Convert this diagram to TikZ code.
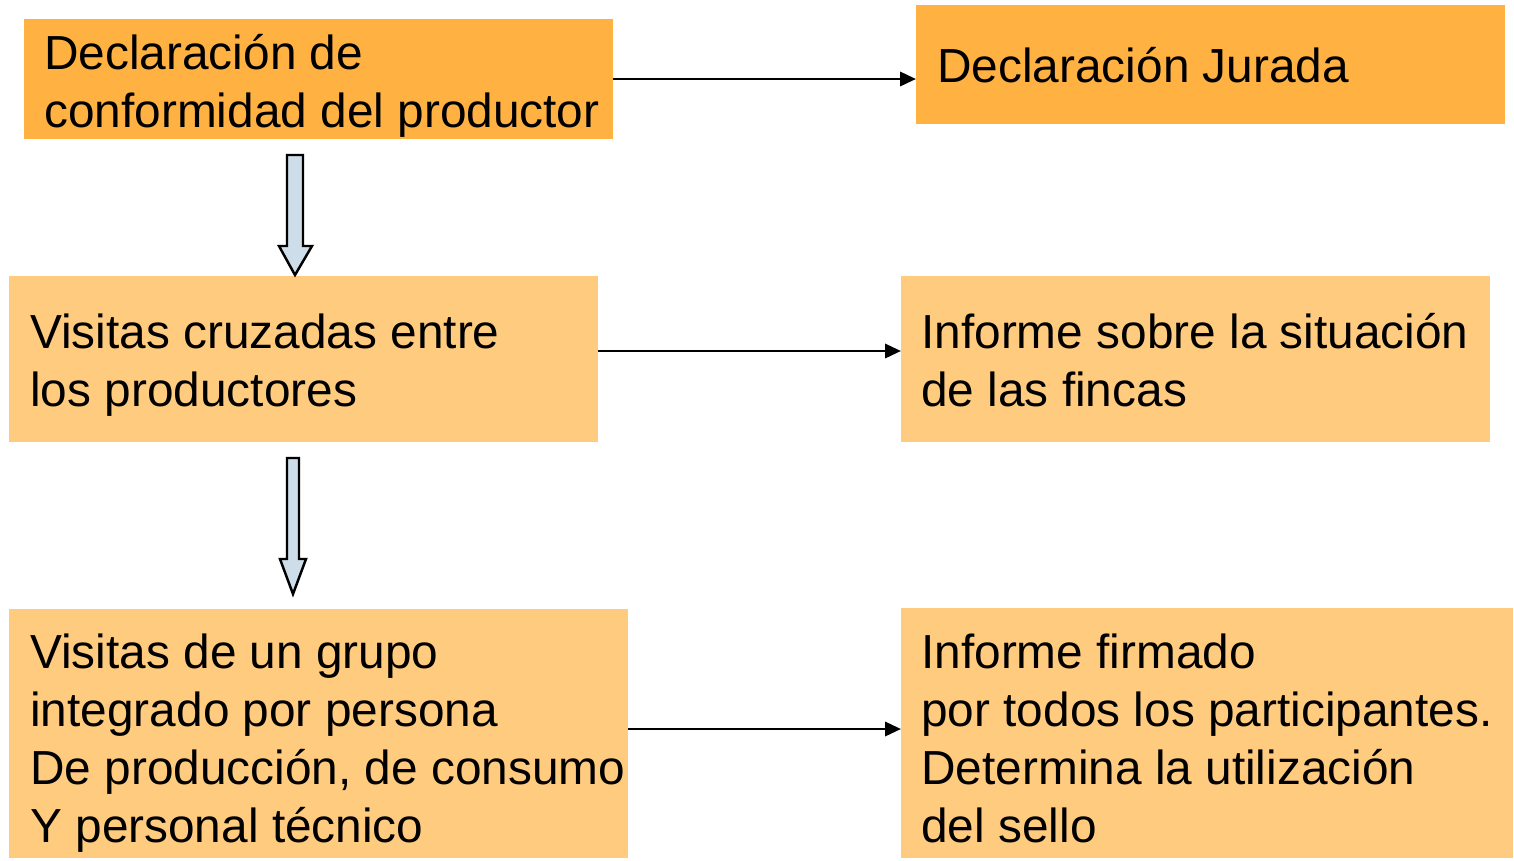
\documentclass[tikz,border=0pt]{standalone}
\usepackage{fontspec}
\setmainfont{Liberation Sans}
\usetikzlibrary{arrows.meta}
\definecolor{topbox}{HTML}{FFB142}
\definecolor{lowbox}{HTML}{FFCB7F}
\definecolor{blockfill}{HTML}{CDDDE9}
\begin{document}
\begin{tikzpicture}[x=0.02cm,y=-0.02cm,
  boxshape/.style={draw=none,inner sep=0pt,outer sep=0pt},
  lbl/.style={anchor=base west,inner sep=0pt,font=\fontsize{27.2}{32.9}\selectfont,align=left},
  conn/.style={line width=1.6pt,-{Triangle[length=9pt,width=8pt]}},
  blockarrow/.style={draw=black,line width=1.4pt,fill=blockfill,line join=miter}]
\useasboundingbox (0,0) rectangle (1514,860);
% boxes
\node[boxshape,fill=topbox,minimum width=589*0.02cm,minimum height=120*0.02cm] (A) at (318.5,79) {};
\node[boxshape,fill=topbox,minimum width=589*0.02cm,minimum height=119*0.02cm] (B) at (1210.5,64.5) {};
\node[boxshape,fill=lowbox,minimum width=589*0.02cm,minimum height=166*0.02cm] (C) at (303.5,359) {};
\node[boxshape,fill=lowbox,minimum width=589*0.02cm,minimum height=166*0.02cm] (D) at (1195.5,359) {};
\node[boxshape,fill=lowbox,minimum width=619*0.02cm,minimum height=249*0.02cm] (E) at (318.5,733.5) {};
\node[boxshape,fill=lowbox,minimum width=612*0.02cm,minimum height=250*0.02cm] (F) at (1207,733) {};
% texts (base = baseline of last line)
\node[lbl] (At) at (44,127) {Declaración de\\conformidad del productor};
\node[lbl] (Bt) at (937,82) {Declaración Jurada};
\node[lbl] (Ct) at (30,406) {Visitas cruzadas entre\\los productores};
\node[lbl] (Dt) at (921,406) {Informe sobre la situación\\de las fincas};
\node[lbl] (Et) at (30,842) {Visitas de un grupo\\integrado por persona\\De producción, de consumo\\Y personal técnico};
\node[lbl] (Ft) at (921,842) {Informe firmado\\por todos los participantes.\\Determina la utilización\\del sello};
% connectors
\coordinate (a1) at (A.east |- 0,79);
\coordinate (b1) at (B.west |- 0,79);
\coordinate (c1) at (C.east |- 0,351);
\coordinate (d1) at (D.west |- 0,351);
\coordinate (e1) at (E.east |- 0,729);
\coordinate (f1) at (F.west |- 0,729);
\draw[conn] (a1) -- (b1);
\draw[conn] (c1) -- (d1);
\draw[conn] (e1) -- (f1);
% block arrows
\draw[blockarrow] (287,155) -- (303,155) -- (303,246) -- (312,246) -- (295,275) -- (279,246) -- (287,246) -- cycle;
\draw[blockarrow] (287,458) -- (299,458) -- (299,559) -- (306,559) -- (293,594) -- (280,559) -- (287,559) -- cycle;
\end{tikzpicture}
\end{document}
